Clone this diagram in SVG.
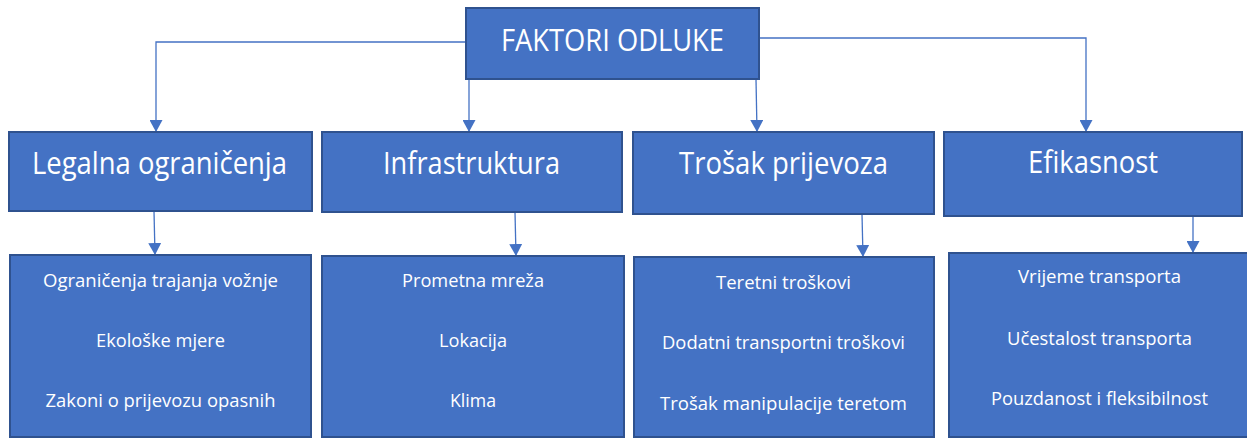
<svg xmlns="http://www.w3.org/2000/svg" width="1247" height="439" viewBox="0 0 1247 439">
<defs>
<style>
.box{fill:#4472C4;stroke:#2F528F;stroke-width:2}
.t{fill:#FFFFFF;font-family:"Open Sans","Noto Sans","Liberation Sans",sans-serif;text-anchor:middle}
.h{font-size:31px}
.s{font-size:18px}
.c{fill:none;stroke:#4472C4;stroke-width:1.3}
</style>
<marker id="arr" markerUnits="userSpaceOnUse" markerWidth="13" markerHeight="13" refX="12" refY="6.5" orient="auto">
<path d="M0,0 L12,6.5 L0,13 Z" fill="#4472C4"/>
</marker>
</defs>
<rect width="1247" height="439" fill="#FFFFFF"/>
<g id="connectors">
<path class="c" d="M466,42 H156 V132" marker-end="url(#arr)"/>
<path class="c" d="M469,79 V132" marker-end="url(#arr)"/>
<path class="c" d="M756,79 L757,132" marker-end="url(#arr)"/>
<path class="c" d="M759,38 H1086 V132" marker-end="url(#arr)"/>
<path class="c" d="M154,211 L155,255" marker-end="url(#arr)"/>
<path class="c" d="M515,212 L516,256" marker-end="url(#arr)"/>
<path class="c" d="M862,214 L863,257" marker-end="url(#arr)"/>
<path class="c" d="M1193,216 V253" marker-end="url(#arr)"/>
</g>
<g id="root">
<rect class="box" x="466" y="8" width="293" height="71"/>
<text class="t h" x="612.5" y="51" textLength="223" lengthAdjust="spacingAndGlyphs">FAKTORI ODLUKE</text>
</g>
<g id="legalna">
<rect class="box" x="9" y="132" width="303" height="79"/>
<text class="t h" x="159.5" y="174" textLength="255" lengthAdjust="spacingAndGlyphs">Legalna ograničenja</text>
</g>
<g id="infrastruktura">
<rect class="box" x="322" y="132" width="300" height="80"/>
<text class="t h" x="471.5" y="174" textLength="177" lengthAdjust="spacingAndGlyphs">Infrastruktura</text>
</g>
<g id="trosak">
<rect class="box" x="633" y="132" width="301" height="82"/>
<text class="t h" x="783.5" y="174" textLength="209" lengthAdjust="spacingAndGlyphs">Trošak prijevoza</text>
</g>
<g id="efikasnost">
<rect class="box" x="944" y="132" width="298" height="84"/>
<text class="t h" x="1093" y="173" textLength="130" lengthAdjust="spacingAndGlyphs">Efikasnost</text>
</g>
<g id="legalna-detalji">
<rect class="box" x="10" y="255" width="301" height="182"/>
<text class="t s" x="160.5" y="287" textLength="235" lengthAdjust="spacingAndGlyphs">Ograničenja trajanja vožnje</text>
<text class="t s" x="160.5" y="347" textLength="129" lengthAdjust="spacingAndGlyphs">Ekološke mjere</text>
<text class="t s" x="160.5" y="407" textLength="230" lengthAdjust="spacingAndGlyphs">Zakoni o prijevozu opasnih</text>
</g>
<g id="infrastruktura-detalji">
<rect class="box" x="322" y="256" width="302" height="181"/>
<text class="t s" x="473" y="287" textLength="142" lengthAdjust="spacingAndGlyphs">Prometna mreža</text>
<text class="t s" x="473" y="347" textLength="68" lengthAdjust="spacingAndGlyphs">Lokacija</text>
<text class="t s" x="473" y="407" textLength="46" lengthAdjust="spacingAndGlyphs">Klima</text>
</g>
<g id="trosak-detalji">
<rect class="box" x="634" y="257" width="300" height="180"/>
<text class="t s" x="783.5" y="289" textLength="135" lengthAdjust="spacingAndGlyphs">Teretni troškovi</text>
<text class="t s" x="783.5" y="349" textLength="243" lengthAdjust="spacingAndGlyphs">Dodatni transportni troškovi</text>
<text class="t s" x="783.5" y="410" textLength="247" lengthAdjust="spacingAndGlyphs">Trošak manipulacije teretom</text>
</g>
<g id="efikasnost-detalji">
<rect class="box" x="949" y="253" width="301" height="184"/>
<text class="t s" x="1099.5" y="283" textLength="163" lengthAdjust="spacingAndGlyphs">Vrijeme transporta</text>
<text class="t s" x="1099.5" y="345" textLength="185" lengthAdjust="spacingAndGlyphs">Učestalost transporta</text>
<text class="t s" x="1099.5" y="405" textLength="217" lengthAdjust="spacingAndGlyphs">Pouzdanost i fleksibilnost</text>
</g>
</svg>
